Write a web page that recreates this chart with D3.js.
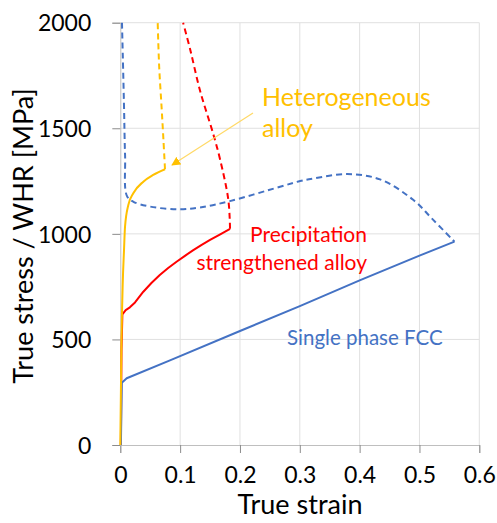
<!DOCTYPE html>
<html>
<head>
<meta charset="utf-8">
<script src="https://cdn.jsdelivr.net/npm/d3@7"></script>
<style>
  body { margin: 0; background: #fff; }
  svg text { font-family: Lato, "Open Sans", sans-serif; }
</style>
</head>
<body>
<svg id="chart" width="497" height="523"></svg>
<script>
// strain / stress pairs
const fccSolid = [[0.001, 0], [0.0025, 295], [0.0107, 316], [0.083, 401], [0.2, 540], [0.3, 658], [0.4, 780], [0.5, 897], [0.5585, 963]];
const fccWhr = [[0.0028, 2000], [0.006, 1630], [0.008, 1370], [0.011, 1180], [0.022, 1152], [0.05, 1129], [0.097, 1116],
  [0.133, 1125], [0.183, 1155], [0.267, 1223], [0.3005, 1250], [0.323, 1262], [0.379, 1283], [0.434, 1258],
  [0.49, 1160], [0.523, 1066], [0.5585, 963]];
const precSolid = [[0.001, 0], [0.002, 450], [0.0035, 619], [0.009, 639], [0.016, 652], [0.0246, 675], [0.0385, 726],
  [0.052, 767], [0.066, 805], [0.08, 838], [0.094, 868], [0.108, 896], [0.122, 923], [0.136, 948], [0.15, 971],
  [0.167, 998], [0.1834, 1024]];
const precWhr = [[0.1834, 1024], [0.1806, 1160], [0.167, 1350], [0.155, 1476], [0.133, 1681], [0.117, 1871], [0.105, 2000]];
const hetSolid = [[0, 0], [0.002, 500], [0.004, 760], [0.0062, 923], [0.0079, 1034], [0.0134, 1137], [0.0217, 1192],
  [0.0385, 1247], [0.055, 1279], [0.0747, 1306]];
const hetWhr = [[0.0747, 1306], [0.072, 1450], [0.069, 1600], [0.065, 1790], [0.0625, 2000]];

const xTicks = [0, 0.1, 0.2, 0.3, 0.4, 0.5, 0.6];
const yTicks = [0, 500, 1000, 1500, 2000];

const blue = "#4472C4", red = "#FF0000", gold = "#FFC000";

const svg = d3.select("#chart");
const x = d3.scaleLinear().domain([0, 0.6]).range([120.3, 479.3]);
const y = d3.scaleLinear().domain([0, 2000]).range([445, 22.7]);

// grid
svg.append("g").selectAll("line").data(xTicks.slice(1)).enter().append("line")
  .attr("x1", d => x(d)).attr("x2", d => x(d)).attr("y1", y(0)).attr("y2", y(2000))
  .attr("stroke", "#e0e0e0").attr("stroke-width", 1);
svg.append("g").selectAll("line").data(yTicks.slice(1)).enter().append("line")
  .attr("x1", x(0)).attr("x2", x(0.6)).attr("y1", d => y(d)).attr("y2", d => y(d))
  .attr("stroke", "#e0e0e0").attr("stroke-width", 1);

// axes
const xAxis = svg.append("g").attr("transform", "translate(0," + y(0) + ")")
  .call(d3.axisBottom(x).tickValues(xTicks).tickSize(8).tickPadding(14).tickFormat(d => d === 0 ? "0" : d3.format(".1f")(d)));
const yAxis = svg.append("g").attr("transform", "translate(" + x(0) + ",0)")
  .call(d3.axisLeft(y).tickValues(yTicks).tickSize(8).tickPadding(21).tickFormat(d3.format("d")));
[xAxis, yAxis].forEach(a => {
  a.select(".domain").attr("stroke", "#bfbfbf");
  a.selectAll(".tick line").attr("stroke", "#8c8c8c");
  a.selectAll("text").attr("font-family", "Lato, sans-serif").attr("font-size", 23).attr("fill", "#000");
});
yAxis.selectAll("text").attr("dy", "0.36em");

svg.append("text").attr("x", 300).attr("y", 514).attr("text-anchor", "middle")
  .attr("font-size", 27).text("True strain");
svg.append("text").attr("transform", "translate(33,236) rotate(-90)").attr("text-anchor", "middle")
  .attr("font-size", 27).text("True stress / WHR [MPa]");

// curves
const straightLine = d3.line().x(d => x(d[0])).y(d => y(d[1]));
const solidLine = d3.line().x(d => x(d[0])).y(d => y(d[1])).curve(d3.curveMonotoneX);
const dashLine = d3.line().x(d => x(d[0])).y(d => y(d[1])).curve(d3.curveCatmullRom.alpha(0.5));
const series = [
  [precSolid, red, null, straightLine], [fccSolid, blue, null, straightLine], [hetSolid, gold, null, solidLine],
  [fccWhr, blue, "6,4", dashLine], [precWhr, red, "6,4", dashLine], [hetWhr, gold, "6,4", dashLine]
];
series.forEach(s => {
  svg.append("path").datum(s[0]).attr("d", s[3])
    .attr("fill", "none").attr("stroke", s[1]).attr("stroke-width", 2)
    .attr("stroke-linejoin", "round").attr("stroke-dasharray", s[2]);
});

// annotation arrow
svg.append("defs").append("marker").attr("id", "head")
  .attr("viewBox", "0 0 10 10").attr("refX", 9).attr("refY", 5)
  .attr("markerWidth", 9).attr("markerHeight", 9).attr("orient", "auto")
  .attr("markerUnits", "userSpaceOnUse")
  .append("path").attr("d", "M0,0 L10,5 L0,10 z").attr("fill", gold);
svg.append("line").attr("x1", 253).attr("y1", 113).attr("x2", 172).attr("y2", 165)
  .attr("stroke", "#FFD966").attr("stroke-width", 1.2).attr("marker-end", "url(#head)");

// labels
svg.append("text").attr("x", 262).attr("y", 106).attr("font-size", 25).attr("fill", gold).text("Heterogeneous");
svg.append("text").attr("x", 262).attr("y", 137).attr("font-size", 25).attr("fill", gold).text("alloy");
svg.append("text").attr("x", 367).attr("y", 242).attr("text-anchor", "end").attr("font-size", 21).attr("fill", red).text("Precipitation");
svg.append("text").attr("x", 367).attr("y", 270).attr("text-anchor", "end").attr("font-size", 21).attr("fill", red).text("strengthened alloy");
svg.append("text").attr("x", 287).attr("y", 345).attr("font-size", 20.5).attr("fill", blue).text("Single phase FCC");
</script>
</body>
</html>
